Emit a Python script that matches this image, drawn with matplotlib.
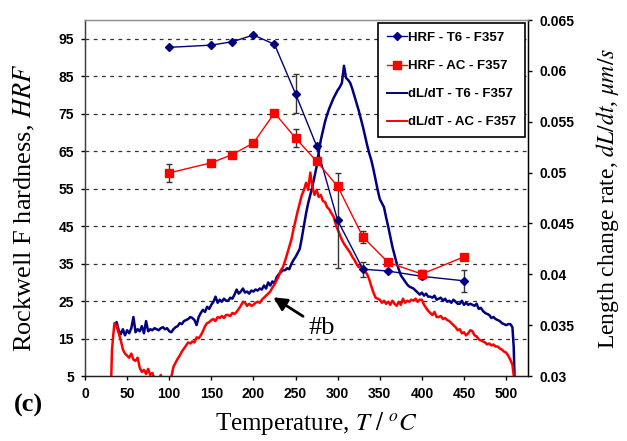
import numpy as np
import matplotlib
matplotlib.use('Agg')
import matplotlib.pyplot as plt
from matplotlib.lines import Line2D

plt.rcParams['mathtext.fontset'] = 'stix'
plt.rcParams['font.family'] = ['Liberation Sans', 'DejaVu Sans']

# ---------------- data ----------------
# Hardness (left axis)
T_hrf = [100, 150, 175, 200, 225, 250, 275, 300, 330, 360, 400, 450]
hrf_t6 = [92.7, 93.3, 94.2, 96.0, 93.5, 80.3, 66.4, 46.5, 33.5, 33.0, 31.6, 30.4]
err_t6 = [0, 0, 0, 0, 0, 5.2, 0, 12.8, 2.0, 0, 0, 3.0]
hrf_ac = [59.2, 61.9, 64.1, 67.2, 75.2, 68.5, 62.3, 55.6, 42.1, 35.3, 32.2, 36.8]
err_ac = [2.4, 0, 0, 0, 0, 2.5, 0, 0, 1.5, 0, 1.2, 0]

# Length change rate (right axis), sampled every 2.5 C from 35 to 507.5 C
T_grid = list(np.arange(35.0, 507.6, 2.5))
dl_t6_main = [
    0.0349, 0.0353, 0.0345, 0.0341, 0.0346, 0.0340, 0.0345, 0.0342, 0.0347, 0.0358,
    0.0343, 0.0346, 0.0344, 0.0349, 0.0342, 0.0354, 0.0344, 0.0346, 0.0345, 0.0347,
    0.0346, 0.0345, 0.0347, 0.0348, 0.0346, 0.0347, 0.0344, 0.0343, 0.0346, 0.0348,
    0.0349, 0.0352, 0.0351, 0.0354, 0.0355, 0.0356, 0.0358, 0.0357, 0.0355, 0.0350,
    0.0358, 0.0362, 0.0365, 0.0363, 0.0368, 0.0366, 0.0370, 0.0373, 0.0378, 0.0372,
    0.0375, 0.0373, 0.0376, 0.0374, 0.0374, 0.0377, 0.0376, 0.0380, 0.0385, 0.0381,
    0.0383, 0.0386, 0.0382, 0.0383, 0.0381, 0.0384, 0.0383, 0.0385, 0.0384, 0.0386,
    0.0385, 0.0389, 0.0386, 0.0392, 0.0389, 0.0393, 0.0391, 0.0397, 0.0400, 0.0402,
    0.0404, 0.0404, 0.0406, 0.0405, 0.0410, 0.0414, 0.0417, 0.0421, 0.0425, 0.0436,
    0.0448, 0.0460, 0.0470, 0.0478, 0.0486, 0.0496, 0.0506, 0.0520, 0.0532, 0.0541,
    0.0550, 0.0557, 0.0563, 0.0568, 0.0573, 0.0577, 0.0581, 0.0584, 0.0588, 0.0605,
    0.0593, 0.0591, 0.0588, 0.0582, 0.0575, 0.0568, 0.0561, 0.0553, 0.0545, 0.0536,
    0.0527, 0.0519, 0.0512, 0.0503, 0.0493, 0.0483, 0.0474, 0.0470, 0.0466, 0.0456,
    0.0447, 0.0437, 0.0427, 0.0419, 0.0411, 0.0405, 0.0399, 0.0396, 0.0393, 0.0390,
    0.0388, 0.0387, 0.0386, 0.0384, 0.0382, 0.0380, 0.0382, 0.0379, 0.0381, 0.0378,
    0.0378, 0.0377, 0.0379, 0.0375, 0.0376, 0.0377, 0.0374, 0.0376, 0.0373, 0.0374,
    0.0372, 0.0375, 0.0373, 0.0371, 0.0371, 0.0374, 0.0370, 0.0372, 0.0370, 0.0371,
    0.0370, 0.0369, 0.0371, 0.0366, 0.0367, 0.0364, 0.0362, 0.0361, 0.0360, 0.0357,
    0.0358, 0.0356, 0.0355, 0.0354, 0.0352, 0.0351, 0.0350, 0.0351, 0.0351, 0.0348,
]
T_t6_tail = [509.0, 510.0]
dl_t6_tail = [0.0329, 0.0300]

T_ac_head = [31.0, 32.0, 33.5]
dl_ac_head = [0.0294, 0.0325, 0.0340]
dl_ac_main = [
    0.0352, 0.0349, 0.0342, 0.0335, 0.0326, 0.0322, 0.0320, 0.0318, 0.0322, 0.0316,
    0.0315, 0.0318, 0.0308, 0.0304, 0.0306, 0.0302, 0.0307, 0.0301, 0.0303, 0.0297,
    0.0295, 0.0296, 0.0301, 0.0294, 0.0293, 0.0294, 0.0296, 0.0299, 0.0309, 0.0313,
    0.0317, 0.0320, 0.0324, 0.0327, 0.0330, 0.0333, 0.0332, 0.0334, 0.0333, 0.0338,
    0.0337, 0.0340, 0.0344, 0.0349, 0.0352, 0.0353, 0.0355, 0.0356, 0.0354, 0.0358,
    0.0357, 0.0359, 0.0357, 0.0360, 0.0360, 0.0359, 0.0362, 0.0361, 0.0363, 0.0366,
    0.0369, 0.0373, 0.0372, 0.0369, 0.0371, 0.0369, 0.0370, 0.0372, 0.0373, 0.0372,
    0.0375, 0.0377, 0.0379, 0.0381, 0.0383, 0.0387, 0.0390, 0.0394, 0.0398, 0.0404,
    0.0407, 0.0413, 0.0420, 0.0427, 0.0434, 0.0444, 0.0453, 0.0462, 0.0470, 0.0478,
    0.0483, 0.0490, 0.0483, 0.0500, 0.0486, 0.0478, 0.0483, 0.0476, 0.0478, 0.0472,
    0.0471, 0.0466, 0.0464, 0.0460, 0.0457, 0.0450, 0.0444, 0.0439, 0.0434, 0.0430,
    0.0427, 0.0424, 0.0421, 0.0417, 0.0414, 0.0410, 0.0407, 0.0408, 0.0406, 0.0403,
    0.0400, 0.0395, 0.0388, 0.0382, 0.0377, 0.0376, 0.0375, 0.0372, 0.0374, 0.0371,
    0.0373, 0.0370, 0.0374, 0.0371, 0.0369, 0.0373, 0.0370, 0.0376, 0.0372, 0.0374,
    0.0373, 0.0375, 0.0374, 0.0376, 0.0373, 0.0375, 0.0375, 0.0370, 0.0367, 0.0364,
    0.0362, 0.0360, 0.0363, 0.0358, 0.0358, 0.0359, 0.0356, 0.0357, 0.0355, 0.0354,
    0.0352, 0.0350, 0.0348, 0.0345, 0.0346, 0.0342, 0.0343, 0.0340, 0.0342, 0.0345,
    0.0344, 0.0340, 0.0339, 0.0336, 0.0335, 0.0334, 0.0333, 0.0331, 0.0332, 0.0330,
    0.0331, 0.0329, 0.0329, 0.0327, 0.0326, 0.0324, 0.0323, 0.0320, 0.0316, 0.0311,
]
T_ac_tail = [510.0]
dl_ac_tail = [0.0294]

x_ticks = [0, 50, 100, 150, 200, 250, 300, 350, 400, 450, 500]
left_ticks = [5, 15, 25, 35, 45, 55, 65, 75, 85, 95]
right_ticks = [0.03, 0.035, 0.04, 0.045, 0.05, 0.055, 0.06, 0.065]
right_labels = ['0.03', '0.035', '0.04', '0.045', '0.05', '0.055', '0.06', '0.065']
legend_labels = ['HRF - T6 - F357', 'HRF - AC - F357', 'dL/dT - T6 - F357', 'dL/dT - AC - F357']

# ---------------- figure ----------------
NAVY = '#000080'
RED = '#FF0000'
W, H = 627, 441
fig = plt.figure(figsize=(W / 100, H / 100), dpi=100)
ax = fig.add_axes([85 / W, 1 - 376 / H, 443 / W, 356 / H])
ax2 = ax.twinx()
ax.set_zorder(ax2.get_zorder() + 1)
ax.patch.set_visible(False)

# gridlines (at left-axis tick levels) drawn beneath the curves
ax2.hlines(left_ticks[1:], 0, 1, transform=ax.get_yaxis_transform(),
           colors='#303030', linewidth=0.9, linestyles=(0, (3, 3.6)), zorder=0)

T_t6 = T_grid + T_t6_tail
dl_t6 = dl_t6_main + dl_t6_tail
T_ac = T_ac_head + T_grid + T_ac_tail
dl_ac = dl_ac_head + dl_ac_main + dl_ac_tail
ax2.plot(T_t6, dl_t6, color=NAVY, lw=1.8, zorder=2)
ax2.plot(T_ac, dl_ac, color=RED, lw=1.8, zorder=3)

# hardness
Th = np.array(T_hrf)
for vals, errs, col, mk, ms in [(hrf_t6, err_t6, NAVY, 'D', 4.5), (hrf_ac, err_ac, RED, 's', 6)]:
    v = np.array(vals); e = np.array(errs); m = e > 0
    ax.errorbar(Th[m], v[m], yerr=e[m], fmt='none', ecolor='#333333', elinewidth=1.0,
                capsize=2, capthick=1.0, zorder=2)
    ax.plot(Th, v, color=col, lw=1.0, marker=mk, ms=ms, mfc=col, mec=col, zorder=3)

ax.set_xlim(0, 526)
ax.set_ylim(5, 100)
ax2.set_ylim(0.03, 0.065)
ax.set_xticks(x_ticks)
ax.set_yticks(left_ticks)
ax2.set_yticks(right_ticks)
ax2.set_yticklabels(right_labels)

tick_font = dict(family='Liberation Sans', weight='bold', size=10)
for lab in ax.get_xticklabels() + ax.get_yticklabels() + ax2.get_yticklabels():
    lab.set_fontproperties(matplotlib.font_manager.FontProperties(**tick_font))
ax.tick_params(axis='both', direction='out', length=3, width=1, pad=5, colors='black')
ax2.tick_params(axis='y', direction='out', length=3, width=1, pad=5)

for s in ['top']:
    ax.spines[s].set_color('#909090')
    ax2.spines[s].set_color('#909090')
ax.spines['left'].set_color('#404040')
ax.spines['bottom'].set_color('#202020')
ax2.spines['right'].set_color('black')
for sp in ax.spines.values():
    sp.set_linewidth(1.0)

ax.set_ylabel('Rockwell F hardness, $HRF$', family='Liberation Serif', size=19)
ax.yaxis.set_label_coords(-0.108, 0.472)
ax2.set_ylabel('Length change rate, $dL/dt$, $\\mu m/s$', family='Liberation Serif', size=17)
ax2.yaxis.set_label_coords(1.150, 0.5)
ax.set_xlabel('Temperature, $T\\ /\\ ^{o}C$', family='Liberation Serif', size=18)
ax.xaxis.set_label_coords(0.521, -0.095)

fig.text(28 / W, 1 - 405 / H, '(c)', family='Liberation Serif', weight='bold', size=19,
         ha='center', va='center')

ax.annotate('#b', xy=(223.6, 26.0), xytext=(265, 17.8), family='Liberation Serif', size=19,
            ha='left', va='center',
            arrowprops=dict(arrowstyle='-|>', color='black', lw=2, mutation_scale=20,
                            shrinkA=2, shrinkB=0))

handles = [
    Line2D([], [], color=NAVY, marker='D', ms=4.5, lw=1.0),
    Line2D([], [], color=RED, marker='s', ms=6, lw=1.0),
    Line2D([], [], color=NAVY, lw=1.4),
    Line2D([], [], color=RED, lw=1.4),
]
leg = ax.legend(handles, legend_labels, loc='upper left', bbox_to_anchor=(0.655, 1.0),
                prop=dict(family='Liberation Sans', weight='bold', size=9.5),
                frameon=True, fancybox=False, framealpha=1, edgecolor='black',
                handlelength=1.5, handletextpad=0.1, labelspacing=1.2, borderpad=0.65,
                borderaxespad=0.25)
leg.get_frame().set_linewidth(1.2)

fig.savefig('out.png', dpi=100)
